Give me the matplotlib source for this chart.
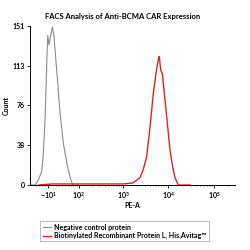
import numpy as np
import matplotlib
matplotlib.use("Agg")
import matplotlib.pyplot as plt
from matplotlib.ticker import FixedLocator

plt.rcParams['font.family'] = ['Lato', 'DejaVu Sans']
plt.rcParams['mathtext.default'] = 'regular'

title = "FACS Analysis of Anti-BCMA CAR Expression"
x_label = "PE-A"
y_label = "Count"
series_names = ["Negative control protein", "Biotinylated Recombinant Protein L, His,Avitag\u2122"]

neg_x = [-75, -53, -41, -30, -25, -20, -17, -14, -12, -8.4, -3.6, 0.9, 5.6, 13, 23, 33, 45, 57, 65, 72, 100]
neg_y = [0, 0, 5, 13, 30, 62, 93, 125, 142, 133, 142, 150, 141, 109, 68, 40, 21, 8, 2, 0, 0]

pos_x = [-40, 0, 100, 500, 1000, 1660, 2365, 2753, 3317, 3920, 4634, 5315, 5968, 6280, 6742, 7310, 7966, 9130, 10800, 12370, 13900, 16440, 30000]
pos_y = [0, 1, 1, 1, 1, 2, 7, 14, 27, 55, 87, 106, 119, 122, 109, 106, 90, 65, 33, 17, 7, 0, 0]

y_ticks = [0, 38, 76, 113, 151]
x_ticks = [-10, 100, 1000, 10000, 100000]
x_ticklabels = [r'$-10^{1}$', r'$10^{2}$', r'$10^{3}$', r'$10^{4}$', r'$10^{5}$']

C = 55.0
def fwd(x):
    return np.arcsinh(np.asarray(x, dtype=float) / C)
def inv(u):
    return C * np.sinh(np.asarray(u, dtype=float))

fig = plt.figure(figsize=(2.5, 2.5), dpi=100)
ax = fig.add_axes([0.12, 0.26, 0.82, 0.636])
ax.set_xscale('function', functions=(fwd, inv))

l1, = ax.plot(neg_x, neg_y, color='#8a8a8a', lw=0.8)
l2, = ax.plot(pos_x, pos_y, color='#e3211c', lw=1.0)

ax.set_xlim(-75, 2.9e5)
ax.set_ylim(0, 151)
ax.set_yticks(y_ticks)
ax.set_yticklabels([str(v) for v in y_ticks])
ax.xaxis.set_major_locator(FixedLocator(x_ticks))
ax.set_xticklabels(x_ticklabels)
minors = [-50, -40, -30, -20, 10, 20, 30, 40, 50, 60, 70, 80, 90]
for d in [100, 1000, 10000]:
    minors += [d * k for k in range(2, 10)]
minors += [200000]
ax.xaxis.set_minor_locator(FixedLocator(minors))
ax.tick_params(axis='both', which='major', labelsize=5, length=2, width=0.6, pad=1.5)
ax.tick_params(axis='x', which='minor', length=1, width=0.4)
for s in ['top', 'right']:
    ax.spines[s].set_visible(False)
for s in ['left', 'bottom']:
    ax.spines[s].set_linewidth(0.7)

ax.set_xlabel(x_label, fontsize=5, fontweight='bold', labelpad=1)
ax.set_ylabel(y_label, fontsize=5, fontweight='bold', labelpad=2)
for t in ax.get_xticklabels() + ax.get_yticklabels():
    t.set_fontweight('bold')

fig.text(0.49, 0.935, title, ha='center', va='center', fontsize=5.5, fontweight='bold')

leg = fig.legend([l1, l2], series_names, loc='upper left', bbox_to_anchor=(0.148, 0.128),
                 frameon=True, fancybox=False, edgecolor='#888888',
                 handlelength=1.2, handletextpad=0.5, borderpad=0.3, labelspacing=0.25,
                 prop={'weight': 'bold', 'size': 5})
leg.get_frame().set_linewidth(0.5)

fig.savefig('out.png', dpi=100)
